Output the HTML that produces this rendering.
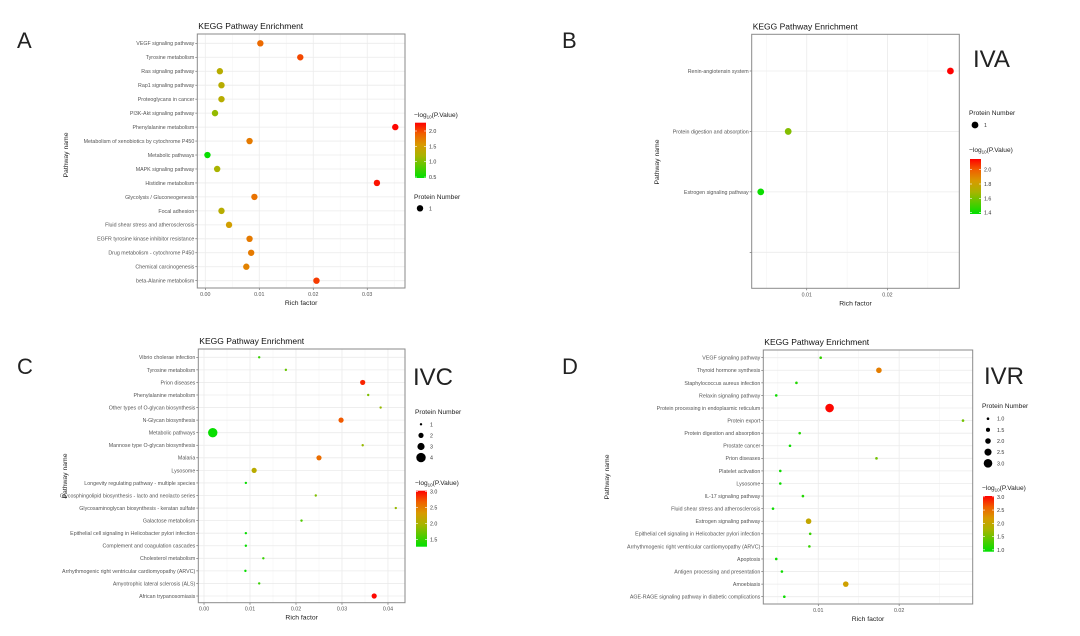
<!DOCTYPE html>
<html><head><meta charset="utf-8">
<style>
body{margin:0;background:#fff;width:1080px;height:636px;overflow:hidden;font-family:"Liberation Sans",sans-serif}
svg{display:block}
</style></head>
<body>
<svg id="fig" width="1080" height="636" viewBox="0 0 1080 636" xmlns="http://www.w3.org/2000/svg" font-family="Liberation Sans, sans-serif"></svg>
<script>
// ---------- Panel A data ----------
const aCats = ["VEGF signaling pathway","Tyrosine metabolism","Ras signaling pathway","Rap1 signaling pathway","Proteoglycans in cancer","PI3K-Akt signaling pathway","Phenylalanine metabolism","Metabolism of xenobiotics by cytochrome P450","Metabolic pathways","MAPK signaling pathway","Histidine metabolism","Glycolysis / Gluconeogenesis","Focal adhesion","Fluid shear stress and atherosclerosis","EGFR tyrosine kinase inhibitor resistance","Drug metabolism - cytochrome P450","Chemical carcinogenesis","beta-Alanine metabolism"];
const aRich = [0.0102,0.0176,0.0027,0.0030,0.0030,0.0018,0.0352,0.0082,0.0004,0.0022,0.0318,0.0091,0.0030,0.0044,0.0082,0.0085,0.0076,0.0206];
const aLogP = [1.85,2.0,1.3,1.3,1.3,1.1,2.25,1.75,0.5,1.2,2.2,1.8,1.3,1.5,1.75,1.75,1.7,2.05];
const aCount = [1,1,1,1,1,1,1,1,1,1,1,1,1,1,1,1,1,1];
const aXTicks = [0,0.01,0.02,0.03];
const aXTickLabels = ["0.00","0.01","0.02","0.03"];
const aCbTicks = [0.5,1.0,1.5,2.0];
const aCbTickLabels = ["0.5","1.0","1.5","2.0"];
const aSizeTicks = [1];
const aSizeTickLabels = ["1"];

// ---------- Panel B data ----------
const bCats = ["Renin-angiotensin system","Protein digestion and absorption","Estrogen signaling pathway",""];
const bRich = [0.0278,0.0077,0.0043];
const bLogP = [2.15,1.62,1.4];
const bCount = [1,1,1];
const bXTicks = [0.01,0.02];
const bXTickLabels = ["0.01","0.02"];
const bCbTicks = [1.4,1.6,1.8,2.0];
const bCbTickLabels = ["1.4","1.6","1.8","2.0"];
const bSizeTicks = [1];
const bSizeTickLabels = ["1"];

// ---------- Panel C data ----------
const cCats = ["Vibrio cholerae infection","Tyrosine metabolism","Prion diseases","Phenylalanine metabolism","Other types of O-glycan biosynthesis","N-Glycan biosynthesis","Metabolic pathways","Mannose type O-glycan biosynthesis","Malaria","Lysosome","Longevity regulating pathway - multiple species","Glycosphingolipid biosynthesis - lacto and neolacto series","Glycosaminoglycan biosynthesis - keratan sulfate","Galactose metabolism","Epithelial cell signaling in Helicobacter pylori infection","Complement and coagulation cascades","Cholesterol metabolism","Arrhythmogenic right ventricular cardiomyopathy (ARVC)","Amyotrophic lateral sclerosis (ALS)","African trypanosomiasis"];
const cRich = [0.0120,0.0178,0.0345,0.0357,0.0384,0.0298,0.0019,0.0345,0.0250,0.0109,0.0091,0.0243,0.0417,0.0212,0.0091,0.0091,0.0129,0.0090,0.0120,0.0370];
const cLogP = [1.5,1.7,2.9,1.8,1.9,2.7,1.3,1.9,2.6,2.1,1.3,1.8,1.9,1.6,1.3,1.3,1.5,1.3,1.5,3.0];
const cCount = [1,1,2,1,1,2,4,1,2,2,1,1,1,1,1,1,1,1,1,2];
const cXTicks = [0,0.01,0.02,0.03,0.04];
const cXTickLabels = ["0.00","0.01","0.02","0.03","0.04"];
const cCbTicks = [1.5,2.0,2.5,3.0];
const cCbTickLabels = ["1.5","2.0","2.5","3.0"];
const cSizeTicks = [1,2,3,4];
const cSizeTickLabels = ["1","2","3","4"];

// ---------- Panel D data ----------
const dCats = ["VEGF signaling pathway","Thyroid hormone synthesis","Staphylococcus aureus infection","Relaxin signaling pathway","Protein processing in endoplasmic reticulum","Protein export","Protein digestion and absorption","Prostate cancer","Prion diseases","Platelet activation","Lysosome","IL-17 signaling pathway","Fluid shear stress and atherosclerosis","Estrogen signaling pathway","Epithelial cell signaling in Helicobacter pylori infection","Arrhythmogenic right ventricular cardiomyopathy (ARVC)","Apoptosis","Antigen processing and presentation","Amoebiasis","AGE-RAGE signaling pathway in diabetic complications"];
const dRich = [0.0103,0.0175,0.0073,0.0048,0.0114,0.0279,0.0077,0.0065,0.0172,0.0053,0.0053,0.0081,0.0044,0.0088,0.0090,0.0089,0.0048,0.0055,0.0134,0.0058];
const dLogP = [1.2,2.4,1.1,1.0,3.0,1.5,1.1,1.0,1.5,1.0,1.0,1.1,1.0,2.0,1.2,1.2,1.0,1.0,2.1,1.0];
const dCount = [1,2,1,1,3,1,1,1,1,1,1,1,1,2,1,1,1,1,2,1];
const dXTicks = [0.01,0.02];
const dXTickLabels = ["0.01","0.02"];
const dCbTicks = [1.0,1.5,2.0,2.5,3.0];
const dCbTickLabels = ["1.0","1.5","2.0","2.5","3.0"];
const dSizeTicks = [1.0,1.5,2.0,2.5,3.0];
const dSizeTickLabels = ["1.0","1.5","2.0","2.5","3.0"];

const NS="http://www.w3.org/2000/svg";
const svg=document.getElementById('fig');
function mk(tag,attrs,parent,text){
  const e=document.createElementNS(NS,tag);
  for(const k in attrs) e.setAttribute(k,attrs[k]);
  if(text!==undefined) e.textContent=text;
  (parent||svg).appendChild(e);
  return e;
}
const stops=[[0,[0,224,0]],[0.4,[168,180,0]],[0.6,[216,154,0]],[0.8,[240,96,0]],[1,[255,0,0]]];
function colorAt(t){
  t=Math.max(0,Math.min(1,t));
  for(let i=1;i<stops.length;i++){
    if(t<=stops[i][0]){
      const a=stops[i-1],b=stops[i],f=(t-a[0])/(b[0]-a[0]);
      const c=a[1].map((v,j)=>Math.round(v+(b[1][j]-v)*f));
      return `rgb(${c[0]},${c[1]},${c[2]})`;
    }
  }
  return 'rgb(255,0,0)';
}
let gradId=0;
function panel(p){
  const g=mk('g',{});
  
  
  const {x0,x1,y0,y1,xmin,xmax}=p;
  const xs=v=>x0+(v-xmin)/(xmax-xmin)*(x1-x0);
  const n=p.cats.length;
  const ys=i=>p.rowTop+i*(p.rowBot-p.rowTop)/(n-1);
  const rs=c=>p.rFn(c);
  const cbMin=p.cbMin,cbMax=p.cbMax;
  // panel letter
  const lt=mk('text',{x:p.lx,y:p.ly,'font-size':22,fill:'#222'},g,p.letter);
  
  
  // title
  const tt=mk('text',{x:x0+1,y:y0-5,'font-size':8.5,fill:'#111'},g,'KEGG Pathway Enrichment');
  
  
  mk('rect',{x:x0,y:y0,width:x1-x0,height:y1-y0,fill:'#fff'},g);
  // minor x gridlines
  const step=p.xTicks.length>1?p.xTicks[1]-p.xTicks[0]:0.01;
  for(let v=p.xTicks[0]-step*1.5;v<=xmax;v+=step){
    if(v>=xmin) mk('line',{x1:xs(v),x2:xs(v),y1:y0,y2:y1,stroke:'#f4f4f4','stroke-width':0.6},g);
  }
  p.xTicks.forEach((v,i)=>{
    mk('line',{x1:xs(v),x2:xs(v),y1:y0,y2:y1,stroke:'#ebebeb','stroke-width':0.8},g);
    mk('line',{x1:xs(v),x2:xs(v),y1:y1,y2:y1+2,stroke:'#555','stroke-width':0.6},g);
    const t=mk('text',{x:xs(v),y:y1+8,'font-size':5.3,fill:'#555','text-anchor':'middle'},g,p.xTickLabels[i]);
    
    
  });
  p.cats.forEach((c,i)=>{
    const y=ys(i);
    mk('line',{x1:x0,x2:x1,y1:y,y2:y,stroke:'#ebebeb','stroke-width':0.8},g);
    mk('line',{x1:x0-2,x2:x0,y1:y,y2:y,stroke:'#555','stroke-width':0.6},g);
    if(c){
      const t=mk('text',{x:x0-3,y:y+1.9,'font-size':5.3,fill:'#555','text-anchor':'end'},g,c);
      
      
    }
  });
  mk('rect',{x:x0,y:y0,width:x1-x0,height:y1-y0,fill:'none',stroke:'#8a8a8a','stroke-width':1},g);
  // points
  p.rich.forEach((v,i)=>{
    const c=mk('circle',{cx:xs(v),cy:ys(i),r:rs(p.count[i]),fill:colorAt((p.logp[i]-cbMin)/(cbMax-cbMin))},g);
    
    
  });
  // axis titles
  const xt=mk('text',{x:(x0+x1)/2,y:y1+17,'font-size':6.8,fill:'#222','text-anchor':'middle'},g,'Rich factor');
  
  
  const yt=mk('text',{x:0,y:0,'font-size':6.8,fill:'#222','text-anchor':'middle',transform:`translate(${p.ytx},${p.yty}) rotate(-90)`},g,'Pathway name');
  
  
  // tag
  if(p.tag){
    const tg=mk('text',{x:p.tagx,y:p.tagy,'font-size':24,fill:'#222'},g,p.tag);
    
    
  }
  // colorbar legend
  const cb=mk('g',{},g);
  
  
  const lg=mk('text',{x:p.cbx-1,y:p.cbTitleY,'font-size':6.6,fill:'#222'},cb);
  lg.appendChild(document.createTextNode('\u2212log'));
  mk('tspan',{'font-size':4.5,dy:1.5},lg,'10');
  mk('tspan',{dy:-1.5},lg,'(P.Value)');
  const gid='g'+(gradId++);
  const defs=mk('defs',{},cb);
  const lgd=mk('linearGradient',{id:gid,x1:0,y1:1,x2:0,y2:0},defs);
  stops.forEach(s=>mk('stop',{offset:s[0],'stop-color':`rgb(${s[1].join(',')})`},lgd));
  mk('rect',{x:p.cbx,y:p.cbTop,width:11,height:p.cbBot-p.cbTop,fill:`url(#${gid})`},cb);
  const cy=v=>p.cbBot-(v-cbMin)/(cbMax-cbMin)*(p.cbBot-p.cbTop);
  p.cbTicks.forEach((v,i)=>{
    mk('line',{x1:p.cbx,x2:p.cbx+2,y1:cy(v),y2:cy(v),stroke:'#fff','stroke-width':0.6},cb);
    mk('line',{x1:p.cbx+9,x2:p.cbx+11,y1:cy(v),y2:cy(v),stroke:'#fff','stroke-width':0.6},cb);
    mk('text',{x:p.cbx+14,y:cy(v)+2,'font-size':5.3,fill:'#333'},cb,p.cbTickLabels[i]);
  });
  // size legend
  const sl=mk('g',{},g);
  
  
  mk('text',{x:p.slx-1,y:p.slTitleY,'font-size':6.6,fill:'#222'},sl,'Protein Number');
  p.sizeTicks.forEach((v,i)=>{
    const y=p.slY0+i*p.slStep;
    mk('circle',{cx:p.slx+5,cy:y,r:rs(v),fill:'#000'},sl);
    mk('text',{x:p.slx+14,y:y+2,'font-size':5.3,fill:'#333'},sl,p.sizeTickLabels[i]);
  });
}

panel({name:'panel-a',letter:'A',lx:17,ly:48,x0:197.3,x1:405,y0:34,y1:288,xmin:-0.00148,xmax:0.0370,
  rowTop:43.3,rowBot:280.7,cats:aCats,rich:aRich,logp:aLogP,count:aCount,rFn:c=>3.2,
  xTicks:aXTicks,xTickLabels:aXTickLabels,ytx:68,yty:155,
  cbx:415,cbTop:122.7,cbBot:178,cbMin:0.47,cbMax:2.27,cbTitleY:117,cbTicks:aCbTicks,cbTickLabels:aCbTickLabels,
  slx:415,slTitleY:199,slY0:208.3,slStep:11,sizeTicks:aSizeTicks,sizeTickLabels:aSizeTickLabels});

panel({name:'panel-b',letter:'B',lx:562,ly:48,x0:751.7,x1:959.3,y0:34.3,y1:288.3,xmin:0.00318,xmax:0.0289,
  rowTop:71,rowBot:252.3,cats:bCats,rich:bRich,logp:bLogP,count:bCount,rFn:c=>3.4,
  xTicks:bXTicks,xTickLabels:bXTickLabels,ytx:659,yty:162,tag:'IVA',tagx:973,tagy:67,
  cbx:970,cbTop:159,cbBot:214,cbMin:1.38,cbMax:2.15,cbTitleY:152,cbTicks:bCbTicks,cbTickLabels:bCbTickLabels,
  slx:970,slTitleY:115,slY0:125,slStep:11,sizeTicks:bSizeTicks,sizeTickLabels:bSizeTickLabels});

panel({name:'panel-c',letter:'C',lx:17,ly:374,x0:198.3,x1:405,y0:349,y1:602.7,xmin:-0.00124,xmax:0.0437,
  rowTop:357.3,rowBot:596,cats:cCats,rich:cRich,logp:cLogP,count:cCount,rFn:c=>[0,1.2,2.6,3.6,4.7][c],
  xTicks:cXTicks,xTickLabels:cXTickLabels,ytx:67,yty:476,tag:'IVC',tagx:413,tagy:385,
  cbx:416,cbTop:490.7,cbBot:546.7,cbMin:1.27,cbMax:3.03,cbTitleY:485,cbTicks:cCbTicks,cbTickLabels:cCbTickLabels,
  slx:416,slTitleY:414,slY0:424.3,slStep:11.1,sizeTicks:cSizeTicks,sizeTickLabels:cSizeTickLabels});

panel({name:'panel-d',letter:'D',lx:562,ly:374,x0:763.3,x1:972.7,y0:350,y1:604,xmin:0.0032,xmax:0.0291,
  rowTop:357.7,rowBot:596.7,cats:dCats,rich:dRich,logp:dLogP,count:dCount,rFn:c=>1.3+(c-1)*1.5,
  xTicks:dXTicks,xTickLabels:dXTickLabels,ytx:609,yty:477,tag:'IVR',tagx:984,tagy:384,
  cbx:983,cbTop:496,cbBot:551.7,cbMin:0.93,cbMax:3.03,cbTitleY:490,cbTicks:dCbTicks,cbTickLabels:dCbTickLabels,
  slx:983,slTitleY:408,slY0:418.7,slStep:11.15,sizeTicks:dSizeTicks,sizeTickLabels:dSizeTickLabels});
</script>
</body></html>
